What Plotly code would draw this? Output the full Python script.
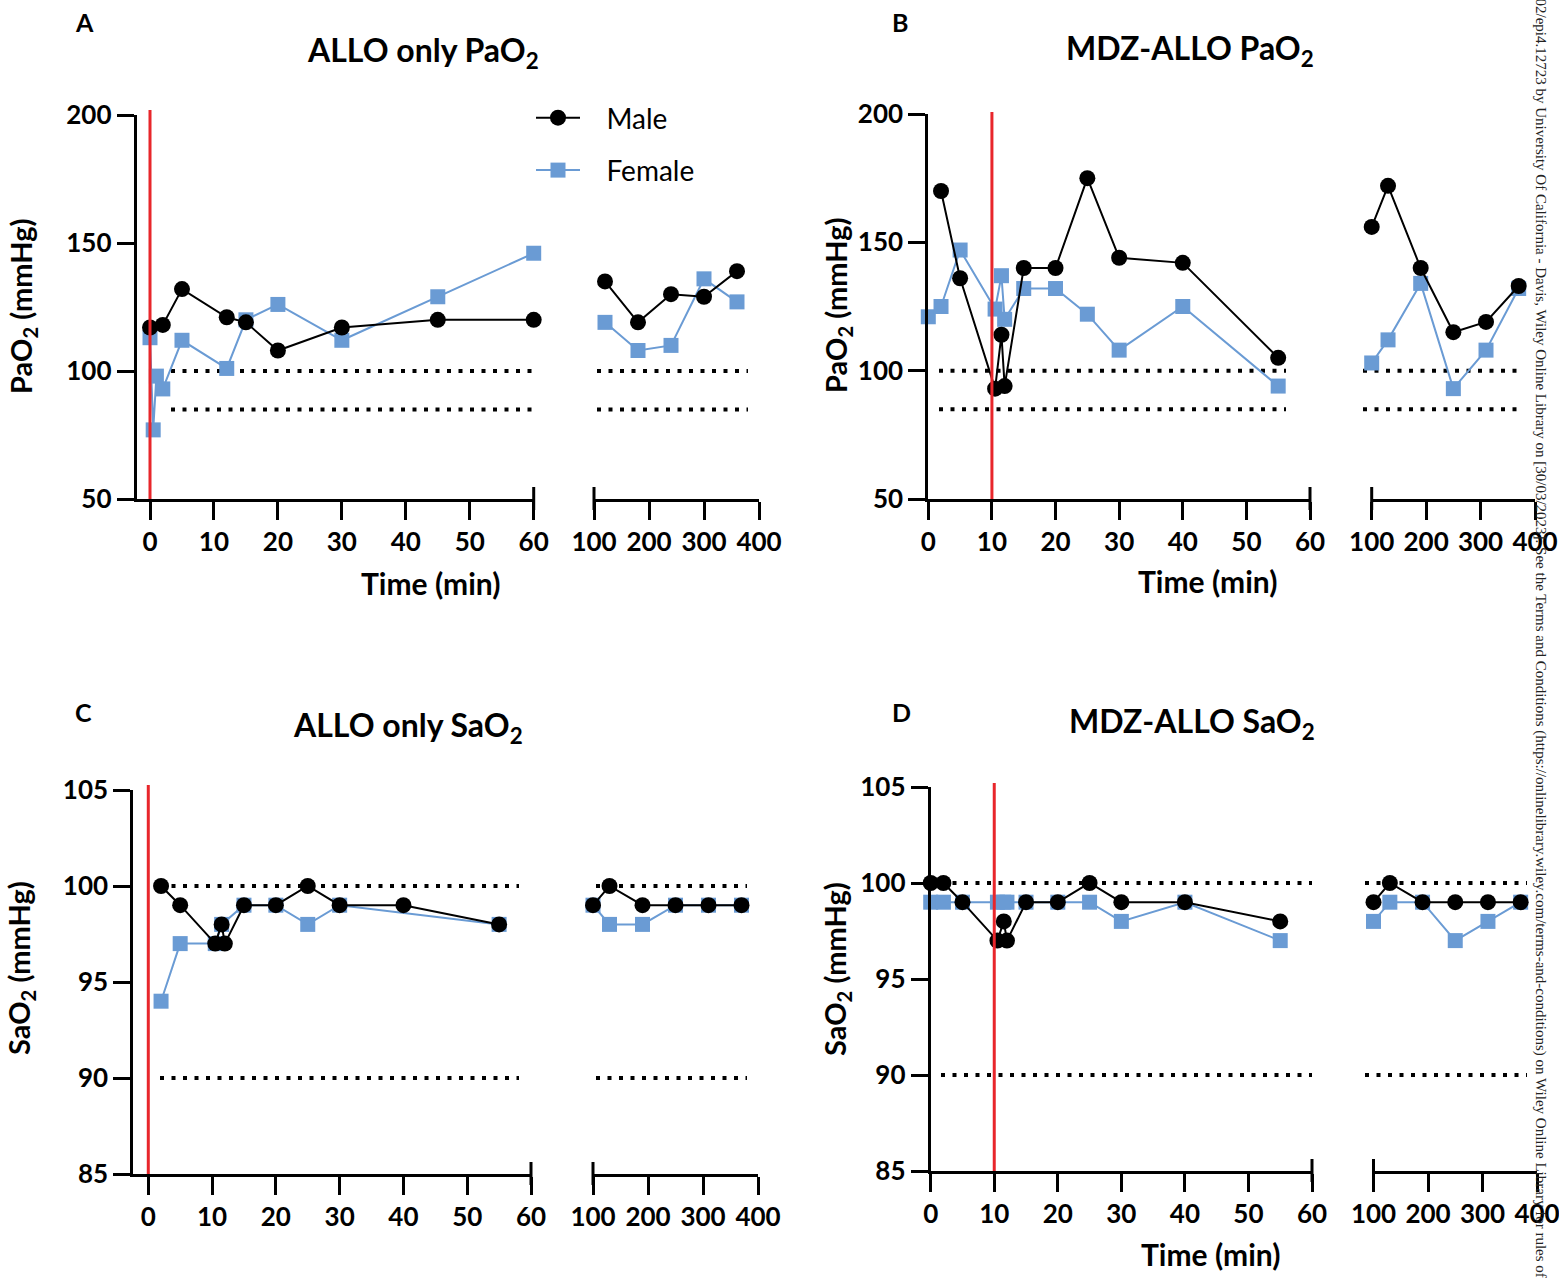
import plotly.graph_objects as go

W, H = 1559, 1280


def px(x):
    return x / W


def py(y):
    return 1 - y / H


BLACK = "#000000"
BLUE = "#6A9BD4"
RED = "#E8262B"
FONT = "Lato"

# ---------------- data ----------------
left_ticks = [0, 10, 20, 30, 40, 50, 60]
right_ticks = [100, 200, 300, 400]

# Panel A: ALLO only PaO2
A_tm = [0, 2, 5, 12, 15, 20, 30, 45, 60]
A_m = [117, 118, 132, 121, 119, 108, 117, 120, 120]
A_tf = [0, 0.5, 1, 2, 5, 12, 15, 20, 30, 45, 60]
A_f = [113, 77, 98, 93, 112, 101, 120, 126, 112, 129, 146]
A_tr = [120, 180, 240, 300, 360]
A_rm = [135, 119, 130, 129, 139]
A_rf = [119, 108, 110, 136, 127]

# Panel B: MDZ-ALLO PaO2
B_tm = [2, 5, 10.5, 11.5, 12, 15, 20, 25, 30, 40, 55]
B_m = [170, 136, 93, 114, 94, 140, 140, 175, 144, 142, 105]
B_tf = [0, 2, 5, 10.5, 11.5, 12, 15, 20, 25, 30, 40, 55]
B_f = [121, 125, 147, 124, 137, 120, 132, 132, 122, 108, 125, 94]
B_tr = [100, 130, 190, 250, 310, 370]
B_rm = [156, 172, 140, 115, 119, 133]
B_rf = [103, 112, 134, 93, 108, 132]

# Panel C: ALLO only SaO2
C_tm = [2, 5, 10.5, 11.5, 12, 15, 20, 25, 30, 40, 55]
C_m = [100, 99, 97, 98, 97, 99, 99, 100, 99, 99, 98]
C_tf = [2, 5, 10.5, 11.5, 15, 20, 25, 30, 55]
C_f = [94, 97, 97, 98, 99, 99, 98, 99, 98]
C_tr = [100, 130, 190, 250, 310, 370]
C_rm = [99, 100, 99, 99, 99, 99]
C_rf = [99, 98, 98, 99, 99, 99]

# Panel D: MDZ-ALLO SaO2
D_tm = [0, 2, 5, 10.5, 11.5, 12, 15, 20, 25, 30, 40, 55]
D_m = [100, 100, 99, 97, 98, 97, 99, 99, 100, 99, 99, 98]
D_tf = [0, 2, 5, 10.5, 11.5, 12, 15, 20, 25, 30, 40, 55]
D_f = [99, 99, 99, 99, 99, 99, 99, 99, 99, 98, 99, 97]
D_tr = [100, 130, 190, 250, 310, 370]
D_rm = [99, 100, 99, 99, 99, 99]
D_rf = [98, 99, 99, 97, 98, 99]

# ---------------- layout geometry (pixels) ----------------
panels = [
    dict(n=1, xl_px=(136.7, 533.7), xl_rng=(-2.08, 60), xr_px=(594, 759),
         y_px=(115, 499), y_rng=(50, 200), yticks=[50, 100, 150, 200],
         refs=(100, 85), dot_l=(171, 532), dot_r=(597, 748), red_x=0, red_top=110,
         data=(A_tm, A_m, A_tf, A_f, A_tr, A_rm, A_rf)),
    dict(n=2, xl_px=(928.3, 1310), xl_rng=(0, 60), xr_px=(1371.7, 1535),
         y_px=(114, 499), y_rng=(50, 200), yticks=[50, 100, 150, 200],
         refs=(100, 85), dot_l=(939, 1286), dot_r=(1363, 1524), red_x=10, red_top=112,
         data=(B_tm, B_m, B_tf, B_f, B_tr, B_rm, B_rf)),
    dict(n=3, xl_px=(133.3, 531), xl_rng=(-2.35, 60), xr_px=(593, 758),
         y_px=(790, 1174), y_rng=(85, 105), yticks=[85, 90, 95, 100, 105],
         refs=(100, 90), dot_l=(160, 519), dot_r=(596, 747), red_x=0, red_top=785,
         data=(C_tm, C_m, C_tf, C_f, C_tr, C_rm, C_rf)),
    dict(n=4, xl_px=(930.7, 1312), xl_rng=(0, 60), xr_px=(1373.5, 1537),
         y_px=(787, 1171), y_rng=(85, 105), yticks=[85, 90, 95, 100, 105],
         refs=(100, 90), dot_l=(941, 1312), dot_r=(1365, 1527), red_x=10, red_top=783,
         data=(D_tm, D_m, D_tf, D_f, D_tr, D_rm, D_rf)),
]

fig = go.Figure()
shapes = []
tickfont = dict(family=FONT, size=26, color=BLACK, weight="bold")

for p in panels:
    n = p["n"]
    xl_id = 2 * n - 1
    xr_id = 2 * n
    xl = "x" if xl_id == 1 else f"x{xl_id}"
    xr = f"x{xr_id}"
    yy = "y" if n == 1 else f"y{n}"
    tm, m, tf, f, tr, rm, rf = p["data"]

    def add(xs, ys, xa, color, symbol, size, name, label, show):
        fig.add_trace(go.Scatter(
            x=xs, y=ys, xaxis=xa, yaxis=yy, mode="lines+markers",
            line=dict(color=color, width=2),
            marker=dict(color=color, symbol=symbol, size=size, line=dict(width=0)),
            name=label, showlegend=show, legendgroup=name,
            legendrank=1 if name == "Male" else 2, cliponaxis=False))

    add(tf, f, xl, BLUE, "square", 15, "Female", "\u00a0\u00a0\u00a0Female", n == 1)
    add(tm, m, xl, BLACK, "circle", 16, "Male", "\u00a0\u00a0\u00a0Male", n == 1)
    add(tr, rf, xr, BLUE, "square", 15, "Female", "Female", False)
    add(tr, rm, xr, BLACK, "circle", 16, "Male", "Male", False)

    axcommon = dict(showline=True, linewidth=3, linecolor=BLACK, ticks="outside",
                    tickwidth=3, tickcolor=BLACK, showgrid=False, automargin=False,
                    zeroline=False, tickfont=tickfont, fixedrange=True)
    fig.layout[f"xaxis{'' if xl_id == 1 else xl_id}"] = dict(
        domain=[px(p["xl_px"][0]), px(p["xl_px"][1])], range=list(p["xl_rng"]),
        anchor=yy, tickvals=left_ticks, ticklen=18, ticklabeloverflow="allow", **axcommon)
    fig.layout[f"xaxis{xr_id}"] = dict(
        domain=[px(p["xr_px"][0]), px(p["xr_px"][1])], range=[100, 400],
        anchor=yy, tickvals=right_ticks, ticklen=18, ticklabeloverflow="allow", **axcommon)
    fig.layout[f"yaxis{'' if n == 1 else n}"] = dict(
        domain=[py(p["y_px"][1]), py(p["y_px"][0])], range=list(p["y_rng"]),
        anchor=xl, tickvals=p["yticks"], ticklen=17, ticklabeloverflow="allow", **axcommon)

    # red vertical line
    shapes.append(dict(type="line", xref=xl, yref="paper", x0=p["red_x"], x1=p["red_x"],
                       y0=py(p["y_px"][1]), y1=py(p["red_top"]),
                       line=dict(color=RED, width=3), layer="above"))
    # dotted reference lines
    for rv in p["refs"]:
        for (a, b) in (p["dot_l"], p["dot_r"]):
            shapes.append(dict(type="line", xref="paper", yref=yy, x0=px(a), x1=px(b),
                               y0=rv, y1=rv,
                               line=dict(color=BLACK, width=4, dash="4px,7.5px"),
                               layer="below"))
    # axis break marks
    ybase = p["y_px"][1]
    for xb in (p["xl_px"][1], p["xr_px"][0]):
        shapes.append(dict(type="line", xref="paper", yref="paper", x0=px(xb), x1=px(xb),
                           y0=py(ybase + 11), y1=py(ybase - 12),
                           line=dict(color=BLACK, width=3)))

ann = []


def text(x, y, s, size, bold=True, angle=0, family=FONT, color=BLACK, xanchor="center"):
    ann.append(dict(x=px(x), y=py(y), xref="paper", yref="paper", text=s, showarrow=False,
                    textangle=angle, xanchor=xanchor, yanchor="middle",
                    font=dict(family=family, size=size, color=color,
                              weight="bold" if bold else "normal")))


# panel letters
text(84, 22, "A", 25)
text(900, 22, "B", 25)
text(83, 712, "C", 25)
text(901, 712, "D", 25)
# titles
text(423, 52, "ALLO only PaO<sub>2</sub>", 32)
text(1190, 50, "MDZ-ALLO PaO<sub>2</sub>", 32)
text(408, 727, "ALLO only SaO<sub>2</sub>", 32)
text(1192, 723, "MDZ-ALLO SaO<sub>2</sub>", 32)
# axis titles
text(430, 583, "Time (min)", 30)
text(1207, 581, "Time (min)", 30)
text(1210, 1254, "Time (min)", 30)
text(22, 307, "PaO<sub>2</sub> (mmHg)", 29, angle=-90)
text(838, 306, "PaO<sub>2</sub> (mmHg)", 29, angle=-90)
text(20, 968, "SaO<sub>2</sub> (mmHg)", 29, angle=-90)
text(836, 969, "SaO<sub>2</sub> (mmHg)", 29, angle=-90)
# side watermark
text(1541, 640,
     "002/epi4.12723 by University Of California - Davis, Wiley Online Library on [30/03/2023]. "
     "See the Terms and Conditions (https://onlinelibrary.wiley.com/terms-and-conditions) "
     "on Wiley Online Library for rules of u",
     15, bold=False, angle=90, family="Liberation Serif", color="#222222")

fig.update_layout(
    template="none",
    width=W, height=H, margin=dict(l=0, r=0, t=0, b=0, pad=0, autoexpand=False),
    paper_bgcolor="white", plot_bgcolor="rgba(0,0,0,0)",
    shapes=shapes, annotations=ann,
    showlegend=True,
    legend=dict(x=px(531), y=py(93), xanchor="left", yanchor="top",
                font=dict(family=FONT, size=28, color=BLACK),
                bgcolor="rgba(0,0,0,0)", tracegroupgap=13, itemwidth=44,
                traceorder="grouped"),
)

fig.write_html("out.html")
